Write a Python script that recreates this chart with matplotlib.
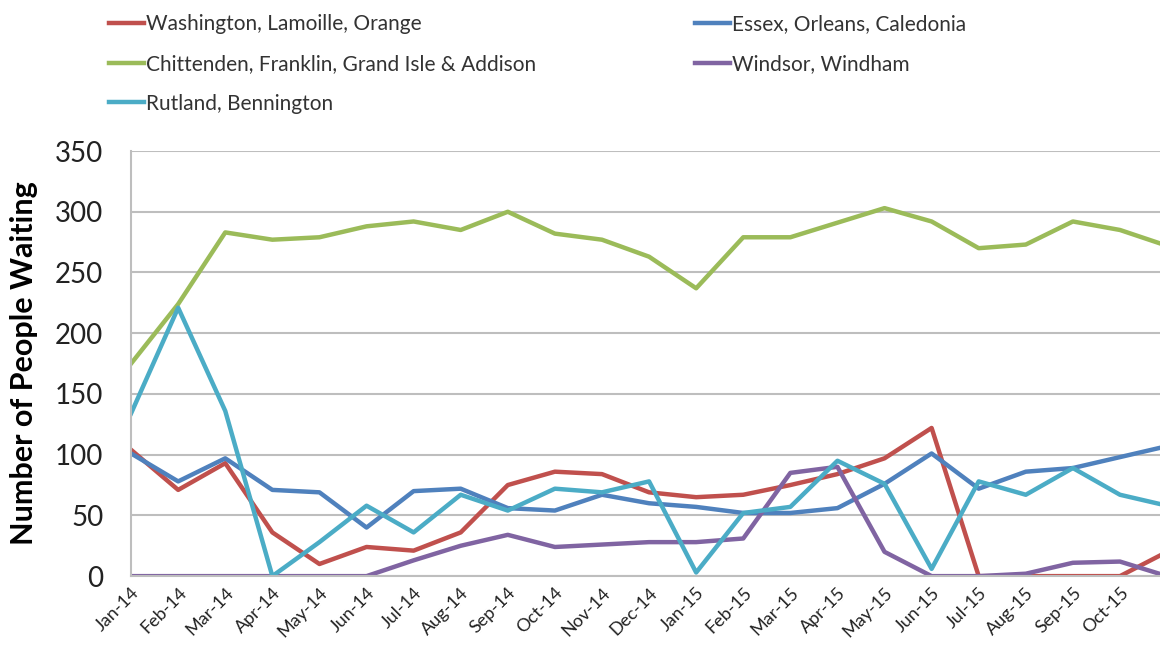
import matplotlib
matplotlib.use("Agg")
import matplotlib.pyplot as plt

plt.rcParams['font.family'] = ['Lato', 'DejaVu Sans']

months = ['Jan-14', 'Feb-14', 'Mar-14', 'Apr-14', 'May-14', 'Jun-14', 'Jul-14', 'Aug-14',
          'Sep-14', 'Oct-14', 'Nov-14', 'Dec-14', 'Jan-15', 'Feb-15', 'Mar-15', 'Apr-15',
          'May-15', 'Jun-15', 'Jul-15', 'Aug-15', 'Sep-15', 'Oct-15', 'Nov-15']

washington = [104, 71, 93, 36, 10, 24, 21, 36, 75, 86, 84, 69, 65, 67, 75, 84, 97, 122, 0, 0, 0, 0, 20]
essex = [101, 78, 97, 71, 69, 40, 70, 72, 56, 54, 67, 60, 57, 52, 52, 56, 76, 101, 72, 86, 89, 98, 107]
chittenden = [175, 224, 283, 277, 279, 288, 292, 285, 300, 282, 277, 263, 237, 279, 279, 291, 303, 292, 270, 273, 292, 285, 272]
windsor = [0, 0, 0, 0, 0, 0, 13, 25, 34, 24, 26, 28, 28, 31, 85, 90, 20, 0, 0, 2, 11, 12, 0]
rutland = [134, 221, 136, 0, 28, 58, 36, 67, 54, 72, 69, 78, 3, 52, 57, 95, 76, 6, 78, 67, 89, 67, 58]

series = [
    ('Washington, Lamoille, Orange', washington, '#C0504D'),
    ('Chittenden, Franklin, Grand Isle & Addison', chittenden, '#9BBB59'),
    ('Rutland, Bennington', rutland, '#4BACC6'),
    ('Essex, Orleans, Caledonia', essex, '#4F81BD'),
    ('Windsor, Windham', windsor, '#8064A2'),
]

fig = plt.figure(figsize=(11.6, 6.51), dpi=100)
ax = fig.add_axes([0.113, 0.115, 0.887, 0.653])

x = list(range(len(months)))
# draw in Excel order so the overlaps look the same
draw_order = [0, 3, 1, 4, 2]
lines = {}
for i in draw_order:
    name, vals, col = series[i]
    lines[i], = ax.plot(x, vals, color=col, lw=3.2, label=name)

ax.set_ylim(0, 350)
ax.set_xlim(0, 21.85)
ax.set_yticks(range(0, 351, 50))
ax.tick_params(axis='y', labelsize=20, length=0, pad=20, labelcolor='#222222')
ax.set_xticks(x[:22])
ax.set_xticklabels(months[:22], rotation=45, ha='right', rotation_mode='anchor',
                   fontsize=13, color='#222222')
ax.tick_params(axis='x', length=0, pad=6)
ax.grid(axis='y', color='#BEBEBE', lw=1.5)
ax.set_axisbelow(True)
for s in ['top', 'right']:
    ax.spines[s].set_visible(False)
for s in ['left', 'bottom']:
    ax.spines[s].set_color('#BEBEBE')
    ax.spines[s].set_linewidth(1.5)
ax.set_ylabel('Number of People Waiting', fontsize=22, fontweight='bold', labelpad=12)

handles = [lines[i] for i in range(5)]
fig.legend(handles, [s[0] for s in series], ncol=2, loc='upper left',
           bbox_to_anchor=(0.078, 1.007), frameon=False, fontsize=15,
           handlelength=1.65, handletextpad=0.1, columnspacing=7.65,
           labelspacing=0.95, labelcolor='#333333')

fig.savefig('out.png', dpi=100)
